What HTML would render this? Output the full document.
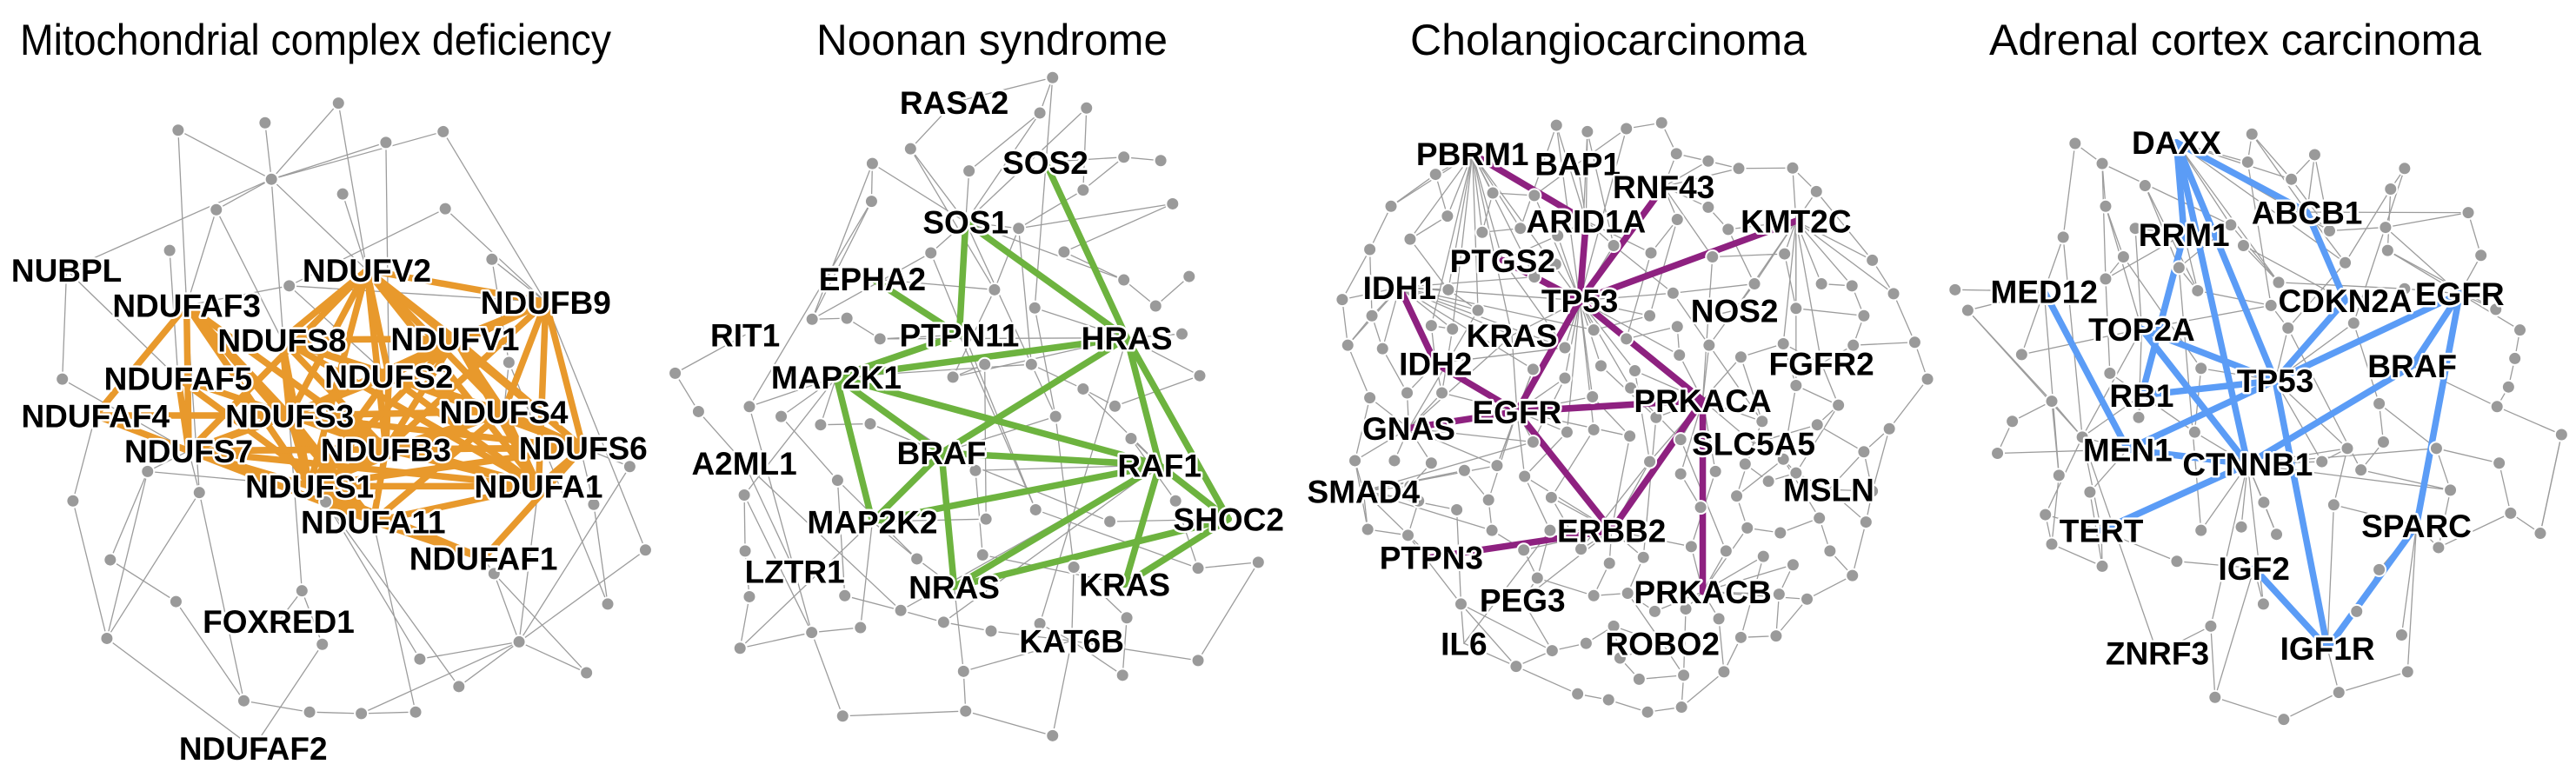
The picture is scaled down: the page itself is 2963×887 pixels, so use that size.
<!DOCTYPE html>
<html><head><meta charset="utf-8">
<style>
html,body{margin:0;padding:0;background:#fff;}
svg{display:block;}
.title{font-family:"Liberation Sans",Arial,sans-serif;font-size:50px;fill:#000;}
.lbl{font-family:"Liberation Sans",Arial,sans-serif;font-weight:bold;font-size:37px;fill:#000;stroke:#fff;stroke-width:5px;paint-order:stroke;stroke-linejoin:round;}
</style></head>
<body>
<svg id="fig" width="2963" height="887" viewBox="0 0 2963 887" xmlns="http://www.w3.org/2000/svg">
<text class="title" x="23" y="63" textLength="680" lengthAdjust="spacingAndGlyphs">Mitochondrial complex deficiency</text>
<text class="title" x="939" y="63" textLength="404" lengthAdjust="spacingAndGlyphs">Noonan syndrome</text>
<text class="title" x="1622" y="63" textLength="456" lengthAdjust="spacingAndGlyphs">Cholangiocarcinoma</text>
<text class="title" x="2288" y="63" textLength="566" lengthAdjust="spacingAndGlyphs">Adrenal cortex carcinoma</text>
</svg>
<script>
// ---------- Panel 1: Mitochondrial complex deficiency ----------
const p1Labels=[["NUBPL",157,550],["NDUFV2",865,550],["NDUFAF3",440,622],["NDUFB9",1287,615],["NDUFS8",665,692],["NDUFV1",1073,690],["NDUFAF5",420,770],["NDUFS2",917,766],["NDUFAF4",225,846],["NDUFS3",683,846],["NDUFS4",1188,838],["NDUFS7",445,918],["NDUFB3",910,915],["NDUFS6",1375,912],["NDUFS1",730,990],["NDUFA1",1270,990],["NDUFA11",880,1062],["NDUFAF1",1140,1137],["FOXRED1",657,1265],["NDUFAF2",597,1523]];
const p1Gray=[[798,210],[625,250],[420,265],[1045,268],[910,290],[640,365],[808,395],[510,427],[1050,425],[400,510],[1160,528],[682,582],[1200,738],[147,772],[348,960],[470,1003],[172,1020],[768,1022],[1485,950],[1400,1027],[1522,1120],[260,1140],[1165,1168],[712,1203],[415,1225],[1433,1230],[252,1300],[760,1312],[1224,1307],[990,1342],[1383,1370],[1082,1398],[575,1427],[730,1450],[852,1453],[980,1450]];
const p1GrayEdges=[[2,5],[2,"NDUFAF3"],[1,5],[0,5],[0,"NDUFV2"],[4,5],[3,5],[3,"NDUFB9"],[4,"NDUFS2"],[5,7],[5,"NUBPL"],[5,23],[5,"NDUFV2"],[6,"NDUFV2"],[8,11],[8,"NDUFB9"],[7,"NDUFS8"],[9,"NDUFAF5"],[10,"NDUFB9"],[11,"NDUFAF3"],[11,"NDUFB9"],[13,"NUBPL"],[13,"NDUFS7"],["NUBPL","NDUFAF5"],[14,26],[14,"NDUFS1"],[15,32],[15,26],[16,"NDUFAF4"],[16,26],[21,24],[21,14],[24,32],[26,"NDUFAF2"],[23,"FOXRED1"],[23,27],[27,"NDUFAF2"],[32,33],[17,29],[17,31],["NDUFA11",35],[28,29],[28,31],[28,30],[28,20],[28,18],[28,22],[28,34],[28,"NDUFA1"],[25,19],[25,12],[20,"NDUFB9"],[30,22],[34,35],[33,34],[12,10],[18,"NDUFS6"],[19,"NDUFB9"],[15,"NDUFAF3"],[7,"NDUFAF3"],["NDUFS7",15],["NDUFS7",14],[11,"NDUFS2"],[12,"NDUFS4"],[17,"NDUFS1"],[22,"NDUFAF1"]];
const p1HiEdges=[["NDUFV2","NDUFS8"],["NDUFV2","NDUFS2"],["NDUFV2","NDUFS3"],["NDUFV2","NDUFB3"],["NDUFV2","NDUFS1"],["NDUFV2","NDUFV1"],["NDUFV2","NDUFB9"],["NDUFV2","NDUFS4"],["NDUFV2","NDUFA1"],["NDUFV2","NDUFS7"],["NDUFV2","NDUFS6"],["NDUFAF3","NDUFS7"],["NDUFAF3","NDUFAF4"],["NDUFAF3","NDUFS3"],["NDUFAF3","NDUFB3"],["NDUFAF3","NDUFS1"],["NDUFAF3","NDUFA11"],["NDUFB9","NDUFV1"],["NDUFB9","NDUFS4"],["NDUFB9","NDUFS6"],["NDUFB9","NDUFS2"],["NDUFB9","NDUFA1"],["NDUFB9","NDUFB3"],["NDUFB9","NDUFS3"],["NDUFS8","NDUFS2"],["NDUFS8","NDUFS3"],["NDUFS8","NDUFB3"],["NDUFS8","NDUFS1"],["NDUFS8","NDUFV1"],["NDUFS8","NDUFS4"],["NDUFS8","NDUFA1"],["NDUFV1","NDUFS2"],["NDUFV1","NDUFS3"],["NDUFV1","NDUFS4"],["NDUFV1","NDUFS6"],["NDUFV1","NDUFA1"],["NDUFV1","NDUFB3"],["NDUFV1","NDUFS1"],["NDUFAF5","NDUFS7"],["NDUFAF5","NDUFS3"],["NDUFAF5","NDUFA11"],["NDUFS2","NDUFS3"],["NDUFS2","NDUFS4"],["NDUFS2","NDUFB3"],["NDUFS2","NDUFS1"],["NDUFS2","NDUFA1"],["NDUFS2","NDUFS6"],["NDUFS2","NDUFS7"],["NDUFAF4","NDUFS3"],["NDUFAF4","NDUFS7"],["NDUFS3","NDUFB3"],["NDUFS3","NDUFS1"],["NDUFS3","NDUFS4"],["NDUFS3","NDUFS6"],["NDUFS3","NDUFA1"],["NDUFS3","NDUFS7"],["NDUFS3","NDUFA11"],["NDUFS4","NDUFB3"],["NDUFS4","NDUFS6"],["NDUFS4","NDUFA1"],["NDUFS4","NDUFS1"],["NDUFS4","NDUFA11"],["NDUFS7","NDUFB3"],["NDUFS7","NDUFS1"],["NDUFS7","NDUFA1"],["NDUFS7","NDUFA11"],["NDUFS7","NDUFS6"],["NDUFB3","NDUFS1"],["NDUFB3","NDUFA1"],["NDUFB3","NDUFS6"],["NDUFB3","NDUFA11"],["NDUFS6","NDUFA1"],["NDUFS6","NDUFAF1"],["NDUFS6","NDUFS1"],["NDUFS1","NDUFA1"],["NDUFS1","NDUFA11"],["NDUFS1","NDUFAF1"],["NDUFA1","NDUFA11"],["NDUFA11","NDUFAF1"]];

// ---------- Panel 2: Noonan syndrome ----------
const p2Labels=[["RASA2",733,208],["SOS2",948,330],["SOS1",760,452],["EPHA2",540,568],["PTPN11",745,682],["HRAS",1140,688],["RIT1",240,682],["MAP2K1",455,768],["BRAF",703,922],["RAF1",1217,947],["A2ML1",238,943],["SHOC2",1380,1057],["MAP2K2",540,1062],["LZTR1",357,1163],["NRAS",733,1195],["KRAS",1135,1190],["KAT6B",1010,1305]];
const p2Gray=[[965,158],[935,230],[1045,220],[630,303],[540,333],[768,348],[1133,320],[1220,327],[1037,387],[1248,415],[538,410],[885,465],[678,515],[992,513],[1133,570],[1287,563],[828,590],[1208,623],[923,627],[398,650],[480,648],[558,690],[1270,680],[75,760],[250,828],[130,838],[325,848],[418,865],[535,863],[730,768],[805,742],[915,742],[1037,792],[1112,827],[972,848],[1150,893],[1312,765],[458,978],[238,1008],[783,958],[808,1057],[925,1038],[1100,1062],[1255,1020],[240,1122],[645,1138],[800,1130],[1015,1155],[1308,1157],[1450,1145],[250,1215],[475,1213],[607,1243],[708,1267],[820,1285],[935,1270],[1140,1258],[397,1288],[512,1278],[228,1320],[755,1367],[1130,1375],[1308,1345],[470,1458],[760,1448],[965,1498]];
const p2GrayEdges=[[0,1],[0,"RASA2"],[0,18],[1,"SOS1"],[1,5],[2,8],[2,"SOS1"],[3,"RASA2"],[3,"SOS1"],[3,16],[4,10],[4,"SOS1"],[4,19],[5,"SOS1"],[6,"SOS2"],[6,7],[6,8],[8,11],[9,11],[9,13],[10,19],[10,24],[11,"SOS1"],[11,31],[11,16],[12,"SOS1"],[12,19],[12,41],[13,14],[14,17],[15,17],[14,"SOS1"],[16,"EPHA2"],[16,29],[18,"HRAS"],[18,34],[19,20],[20,21],[21,"PTPN11"],[21,"HRAS"],[22,"HRAS"],[23,"RIT1"],[23,25],[25,"A2ML1"],[24,"MAP2K1"],[26,"MAP2K1"],[26,37],[27,"MAP2K1"],[27,28],[28,"BRAF"],[28,42],[29,30],[29,"HRAS"],[30,40],[31,32],[31,"MAP2K1"],[32,33],[32,"RAF1"],[33,36],[34,"BRAF"],[34,47],[35,43],[35,"RAF1"],[36,"HRAS"],[37,51],[38,44],[38,57],[38,"MAP2K1"],[39,"RAF1"],[39,46],[40,"MAP2K2"],[41,48],[42,"SHOC2"],[43,48],[44,50],[45,"NRAS"],[45,"MAP2K2"],[46,"KRAS"],[47,56],[47,"KAT6B"],[48,49],[49,62],[50,59],[51,52],[52,53],[53,54],[54,"KAT6B"],[55,"KAT6B"],[56,61],[57,59],[57,58],[58,"MAP2K2"],[59,"MAP2K2"],[60,"NRAS"],[60,64],[60,"KAT6B"],[61,"KAT6B"],[62,"KAT6B"],[63,64],[64,65],[63,57],[65,"KAT6B"],["LZTR1",57],["LZTR1","A2ML1"],["LZTR1",24],["A2ML1",52],[37,45],[39,"MAP2K1"],[52,"RAF1"],[53,"RAF1"],["PTPN11",41],["SOS1",34],["HRAS",55]];
const p2HiEdges=[["SOS2","HRAS"],["SOS1","PTPN11"],["SOS1","HRAS"],["EPHA2","PTPN11"],["PTPN11","MAP2K1"],["HRAS","MAP2K1"],["HRAS","BRAF"],["HRAS","RAF1"],["HRAS","SHOC2"],["MAP2K1","BRAF"],["MAP2K1","RAF1"],["MAP2K1","MAP2K2"],["BRAF","RAF1"],["BRAF","MAP2K2"],["BRAF","NRAS"],["RAF1","MAP2K2"],["RAF1","NRAS"],["RAF1","KRAS"],["RAF1","SHOC2"],["SHOC2","NRAS"],["SHOC2","KRAS"]];

// ---------- Panel 3: Cholangiocarcinoma ----------
const p3Labels=[["PBRM1",397,313],["BAP1",645,333],["RNF43",848,380],["ARID1A",665,450],["KMT2C",1160,450],["PTGS2",468,530],["IDH1",225,585],["TP53",650,612],["NOS2",1015,632],["KRAS",490,683],["IDH2",310,740],["FGFR2",1220,740],["EGFR",502,838],["PRKACA",940,815],["GNAS",247,872],["SLC5A5",1060,903],["SMAD4",140,1000],["MSLN",1237,997],["ERBB2",725,1080],["PTPN3",300,1135],["PEG3",515,1222],["PRKACB",940,1205],["IL6",377,1310],["ROBO2",845,1310]];
const p3Gray=[[595,255],[668,268],[760,262],[843,250],[878,313],[953,328],[1025,343],[1152,342],[1208,390],[310,355],[205,420],[445,393],[543,398],[338,440],[250,487],[155,508],[420,473],[510,465],[598,480],[730,500],[818,515],[880,447],[953,422],[1000,467],[1133,517],[1340,530],[963,523],[90,610],[160,643],[340,590],[410,632],[543,564],[593,538],[870,597],[1062,578],[1220,578],[1292,582],[1390,598],[1160,628],[1320,643],[350,670],[300,663],[103,703],[185,710],[615,708],[683,672],[760,690],[815,643],[880,665],[953,645],[1440,697],[1295,703],[1030,727],[1130,700],[540,752],[615,770],[700,745],[780,755],[885,723],[955,703],[1470,772],[155,810],[243,800],[325,800],[680,808],[770,790],[1160,785],[1260,825],[1080,858],[830,850],[620,880],[683,875],[768,888],[888,895],[1210,865],[1380,873],[120,938],[213,938],[300,943],[378,958],[455,948],[540,900],[815,940],[888,965],[970,960],[1040,945],[1130,935],[1320,920],[250,990],[520,970],[435,1018],[583,1013],[1020,1010],[1095,980],[1160,963],[1340,1000],[150,1078],[270,1020],[360,1038],[443,1080],[580,1080],[935,1033],[1045,1075],[1123,1085],[1215,1055],[1325,1063],[245,1090],[518,1120],[653,1118],[720,1147],[800,1135],[913,1113],[995,1122],[1083,1133],[1153,1150],[1240,1122],[1293,1172],[370,1230],[550,1177],[683,1213],[763,1208],[1186,1220],[1120,1210],[827,1245],[900,1240],[978,1260],[1030,1298],[1113,1295],[585,1325],[665,1310],[730,1275],[745,1340],[500,1357],[790,1383],[895,1375],[990,1368],[645,1413],[718,1425],[810,1450],[890,1440]];
const p3GrayEdges=[["PBRM1",9],["PBRM1",13],["PBRM1",16],["PBRM1",17],["PBRM1",11],["PBRM1",29],["PBRM1",30],["PBRM1",31],["PBRM1",14],["PBRM1",40],["PBRM1",41],["PBRM1","KRAS"],["PBRM1","PTGS2"],["PBRM1","TP53"],["PBRM1",10],
["IDH1",27],["IDH1",28],["IDH1",42],["IDH1",43],["IDH1",40],["IDH1",31],["IDH1",44],["IDH1",30],["IDH1",54],["IDH1",45],["IDH1","KRAS"],["IDH1","TP53"],["IDH1",29],
["GNAS",61],["GNAS",62],["GNAS",63],["GNAS",76],["GNAS",77],["GNAS",78],["GNAS","KRAS"],["GNAS",30],["GNAS",81],["GNAS",80],
["SMAD4",76],["SMAD4",96],["SMAD4",97],["SMAD4",98],["SMAD4",99],["SMAD4",88],["SMAD4","PTPN3"],["SMAD4",79],["SMAD4",80],["SMAD4",81],
["TP53",1],["TP53",2],["TP53",0],["TP53",12],["TP53",18],["TP53",19],["TP53",44],["TP53",45],["TP53",46],["TP53",55],["TP53",56],["TP53",57],["TP53",64],["TP53",65],["TP53",58],["TP53",70],["TP53",71],["TP53","KRAS"],["TP53",33],["TP53",47],
["KMT2C",7],["KMT2C",8],["KMT2C",24],["KMT2C",25],["KMT2C",35],["KMT2C",36],["KMT2C",38],["KMT2C",23],["KMT2C",34],["KMT2C",53],["KMT2C",66],["KMT2C","FGFR2"],["KMT2C",37],["KMT2C","NOS2"],
["PRKACA",58],["PRKACA",59],["PRKACA",49],["PRKACA",69],["PRKACA",73],["PRKACA",82],["PRKACA",83],["PRKACA",84],["PRKACA",52],["PRKACA",68],["PRKACA","SLC5A5"],["PRKACA",65],["PRKACA",57],
["ERBB2",89],["ERBB2",91],["ERBB2",100],["ERBB2",107],["ERBB2",108],["ERBB2",109],["ERBB2",110],["ERBB2",111],["ERBB2",82],["ERBB2",72],["ERBB2","PEG3"],
["PRKACB",101],["PRKACB",111],["PRKACB",112],["PRKACB",113],["PRKACB",122],["PRKACB",124],["PRKACB",125],["PRKACB",123],["PRKACB",121],["PRKACB",114],["PRKACB",102],
["EGFR",54],["EGFR",55],["EGFR",64],["EGFR",70],["EGFR",80],["EGFR",81],["EGFR",89],["EGFR",90],["EGFR",72],["EGFR","KRAS"],["EGFR",63],
["ARID1A",0],["ARID1A",1],["ARID1A",18],["ARID1A",19],["ARID1A",20],["ARID1A","BAP1"],["RNF43",4],["RNF43",5],["RNF43",6],["RNF43",21],["RNF43",22],["RNF43",26],
[2,3],[3,4],[4,5],[5,6],[6,7],[7,8],[9,10],[10,15],[15,27],[27,42],[42,61],[61,76],[76,96],[96,106],[106,117],[117,132],[132,136],[136,137],[137,138],[138,139],[139,135],[135,126],[126,127],[127,121],[121,116],[116,105],[105,95],[95,87],[87,75],[75,60],[60,50],[50,37],[37,25],[25,8],[11,12],[13,14],[16,17],[20,21],[22,23],[24,26],[28,43],[32,31],[33,34],[35,36],[38,39],[39,51],[51,50],[52,53],[53,66],[66,67],[67,74],[74,87],[68,85],[85,93],[93,94],[94,86],[86,92],[92,102],[102,103],[103,104],[104,115],[115,116],[97,106],[98,117],[99,107],[107,118],[118,119],[119,120],[120,123],[128,129],[129,130],[130,131],[131,133],[133,134],[134,139],[117,128],[132,128],
["IL6",117],["IL6",132],["IL6",100],["ROBO2",130],["ROBO2",134],["ROBO2",131],["ROBO2",120],["PEG3",118],["PEG3",128],["MSLN",95],["MSLN",105],["MSLN",94],["MSLN",87],["FGFR2",67],["FGFR2",51],["FGFR2",53],["SLC5A5",85],["SLC5A5",74],["SLC5A5",92],["NOS2",49],["NOS2",59],["NOS2",34],["IDH2",41],["IDH2",62],["IDH2",63],["IDH2",44],["PTGS2",18],["PTGS2",31],["PTGS2",44],["BAP1",12],["BAP1",2],
[57,82],[64,72],[71,91],[56,69],[45,47],[46,48],[48,58],[65,73],[83,101],[84,111],[69,110],[73,112],[82,108],[90,99],[79,90],[78,88],[89,100],[91,108],[109,119],[100,118],[110,120],[124,134],[125,135],[122,127],[113,126],[114,122],[33,59],[26,49],[23,34],[21,47],[20,46],[19,33],[0,17],[1,19],[14,29],[15,28],[43,62],[40,63],[54,80],[55,81],[70,89],[86,104],[75,95],[36,39],[24,38],[66,86],[67,94],[52,68],[59,68],[29,30],[41,40],[28,42],[11,16],[9,13]];
const p3HiEdges=[["PBRM1","ARID1A"],["RNF43","TP53"],["ARID1A","TP53"],["KMT2C","TP53"],["PTGS2","TP53"],["IDH1","IDH2"],["IDH2","EGFR"],["TP53","EGFR"],["TP53","PRKACA"],["EGFR","PRKACA"],["GNAS","EGFR"],["EGFR","ERBB2"],["PRKACA","ERBB2"],["PRKACA","PRKACB"],["ERBB2","PTPN3"]];

// ---------- Panel 4: Adrenal cortex carcinoma ----------
const p4Labels=[["DAXX",622,290],["ABCB1",930,432],["RRM1",640,477],["MED12",310,593],["CDKN2A",1020,612],["EGFR",1290,598],["TOP2A",540,670],["BRAF",1178,745],["TP53",855,775],["RB1",540,805],["MEN1",507,915],["CTNNB1",790,945],["TERT",445,1080],["SPARC",1188,1070],["IGF2",805,1157],["ZNRF3",577,1330],["IGF1R",978,1320]];
const p4Gray=[[383,292],[447,333],[800,273],[948,315],[790,330],[1160,343],[548,378],[893,365],[1127,385],[455,420],[1310,433],[750,458],[983,470],[1115,463],[355,483],[525,465],[497,523],[628,545],[780,500],[1120,510],[1020,535],[1340,520],[100,590],[130,632],[455,568],[672,592],[863,575],[1160,588],[845,622],[1375,630],[885,668],[1040,658],[1432,672],[257,722],[465,760],[680,750],[1420,730],[1405,788],[328,817],[1100,822],[1378,828],[235,858],[533,850],[665,880],[400,890],[1235,913],[1110,900],[1025,913],[1530,885],[200,923],[965,940],[1057,957],[1383,943],[345,968],[418,1002],[1268,998],[828,1023],[993,1028],[313,1048],[680,1080],[775,1073],[858,1088],[1410,1045],[1480,1086],[1240,1115],[328,1108],[447,1153],[623,1143],[1100,1160],[827,1230],[1047,1245],[703,1275],[1153,1293],[1167,1368],[713,1420],[1005,1410],[875,1465]];
const p4GrayEdges=[["DAXX",4],["DAXX",7],["DAXX",12],["DAXX",20],["DAXX",26],["DAXX",11],[0,1],[0,14],[1,9],[1,11],[1,24],[2,4],[2,7],[3,12],[3,7],[4,28],[5,8],[5,31],[6,17],[6,25],[7,12],[8,19],[8,20],[9,16],[9,"TOP2A"],[10,13],[10,21],[10,"ABCB1"],[11,26],[11,17],[12,13],[13,"EGFR"],[14,"MED12"],[14,44],[15,"TOP2A"],[16,24],[16,35],[17,25],[17,59],[18,26],[18,"CDKN2A"],[19,29],[19,"EGFR"],[20,30],[21,"EGFR"],[22,"MED12"],[23,"MED12"],[23,38],[23,44],[24,34],[25,28],[26,27],[27,"EGFR"],[28,30],[29,"EGFR"],[30,51],[31,39],[32,36],[32,"EGFR"],[33,"MED12"],[33,"TOP2A"],[34,"RB1"],[35,43],[36,37],[37,40],[38,41],[38,44],[38,53],[39,45],[39,46],[40,48],[40,"BRAF"],[41,49],[42,"RB1"],[43,"CTNNB1"],[44,"MEN1"],[45,52],[45,55],[46,51],[47,50],[47,57],[48,63],[49,"MEN1"],[50,"TP53"],[51,55],[52,62],[53,65],[54,66],[54,"MEN1"],[55,64],[56,"CTNNB1"],[56,61],[57,"IGF1R"],[58,65],[58,44],[59,"CTNNB1"],[60,"CTNNB1"],[61,"CTNNB1"],[62,63],[62,64],[63,48],[64,"SPARC"],[65,66],[66,"TERT"],[67,"TERT"],[67,"IGF2"],[68,"SPARC"],[68,70],[69,"CTNNB1"],[69,"IGF2"],[70,"IGF1R"],[71,74],[71,"CTNNB1"],[72,"SPARC"],[73,"SPARC"],[73,75],[74,76],[75,76],[75,"IGF1R"],[74,"IGF2"],["ZNRF3",44],["ZNRF3",71],["TERT",44],["TERT",58],[44,"RB1"],[44,"TOP2A"],[42,"TOP2A"],[43,"RB1"],["CTNNB1",47],["CTNNB1",55],["CTNNB1",45],[53,"MED12"],["TP53",31],["TP53",30],["TP53",47],["RRM1",25],["RRM1",15],[24,"RRM1"],[35,"TP53"],[28,"TOP2A"],[57,"SPARC"],[50,"CTNNB1"],[2,"ABCB1"],[3,"ABCB1"],[12,"ABCB1"],[20,"ABCB1"]];
const p4HiEdges=[["DAXX","RRM1"],["DAXX","CTNNB1"],["DAXX","TP53"],["DAXX","ABCB1"],["ABCB1","CDKN2A"],["RRM1","RB1"],["TOP2A","TP53"],["TOP2A","CTNNB1"],["MED12","MEN1"],["CDKN2A","TP53"],["EGFR","TP53"],["EGFR","BRAF"],["EGFR","SPARC"],["SPARC","IGF1R"],["RB1","TP53"],["MEN1","TP53"],["MEN1","CTNNB1"],["CTNNB1","TERT"],["CTNNB1","BRAF"],["TP53","IGF1R"],["IGF2","IGF1R"]];

const panels=[
 {key:"mito",off:0,labels:p1Labels,gray:p1Gray,grayEdges:p1GrayEdges,hi:p1HiEdges,color:"#E8992C"},
 {key:"noonan",off:740,labels:p2Labels,gray:p2Gray,grayEdges:p2GrayEdges,hi:p2HiEdges,color:"#6DB33F"},
 {key:"cholangio",off:1500,labels:p3Labels,gray:p3Gray,grayEdges:p3GrayEdges,hi:p3HiEdges,color:"#8E2180"},
 {key:"adrenal",off:2200,labels:p4Labels,gray:p4Gray,grayEdges:p4GrayEdges,hi:p4HiEdges,color:"#5B9CF6"}
];
const NS="http://www.w3.org/2000/svg";
const svg=document.getElementById("fig");
const sx=(p,v)=>p.off+v/2.05;
const sy=v=>v/1.77;
panels.forEach(p=>{
  const g=document.createElementNS(NS,"g");
  
  
  svg.appendChild(g);
  const pos=k=>{
    if(typeof k==="number"){const n=p.gray[k];return [sx(p,n[0]),sy(n[1])];}
    const l=p.labels.find(a=>a[0]===k);return [sx(p,l[1]),sy(l[2])];
  };
  const line=(a,b,stroke,w,name)=>{
    const A=pos(a),B=pos(b);
    const ln=document.createElementNS(NS,"line");
    ln.setAttribute("x1",A[0]);ln.setAttribute("y1",A[1]);ln.setAttribute("x2",B[0]);ln.setAttribute("y2",B[1]);
    ln.setAttribute("stroke",stroke);ln.setAttribute("stroke-width",w);ln.setAttribute("stroke-linecap","round");
    
    
    g.appendChild(ln);
  };
  p.grayEdges.forEach(e=>line(e[0],e[1],"#9c9c9c",1.3,"gray-edge"));
  p.hi.forEach(e=>line(e[0],e[1],p.color,7.5,"highlight-edge"));
  p.gray.forEach((n,i)=>{
    const c=document.createElementNS(NS,"circle");
    c.setAttribute("cx",sx(p,n[0]));c.setAttribute("cy",sy(n[1]));c.setAttribute("r",7.5);
    c.setAttribute("fill","#9a9a9a");c.setAttribute("stroke","#fff");c.setAttribute("stroke-width",2);
    
    
    g.appendChild(c);
  });
  p.labels.forEach(l=>{
    const t=document.createElementNS(NS,"text");
    t.setAttribute("class","lbl");
    t.setAttribute("x",sx(p,l[1]));t.setAttribute("y",sy(l[2]));
    t.setAttribute("text-anchor","middle");t.setAttribute("dy","0.36em");
    t.textContent=l[0];
    
    
    g.appendChild(t);
  });
});
</script>
</body></html>
